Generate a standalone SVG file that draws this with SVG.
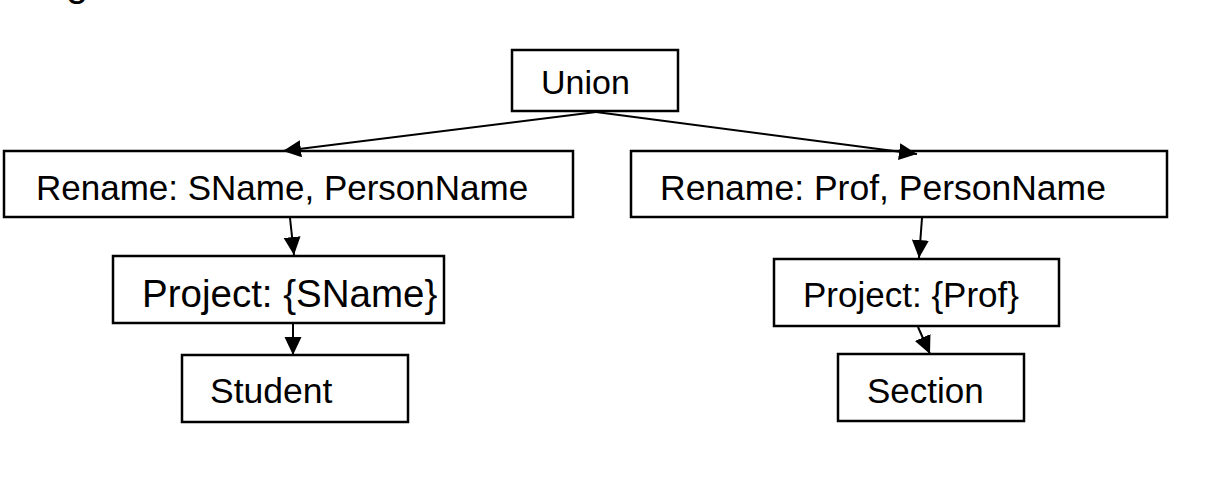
<svg xmlns="http://www.w3.org/2000/svg" width="1220" height="482" viewBox="0 0 1220 482">
<style>
.box{fill:#fff;stroke:#000;stroke-width:2.5}
.lbl{font-family:"Liberation Sans",Arial,sans-serif;fill:#000}
.edge{stroke:#000;stroke-width:2;fill:none}
</style>
<defs>
<marker id="arr" markerUnits="userSpaceOnUse" markerWidth="20" markerHeight="18" refX="18" refY="8.5" orient="auto">
<path d="M0,0 L18,8.5 L0,17 Z" fill="#000"/>
</marker>
</defs>
<rect width="1220" height="482" fill="#fff"/>
<text class="lbl" x="66" y="-4" font-size="40">g</text>
<g id="union"><rect class="box" x="512" y="50" width="166" height="61"/><text class="lbl" x="541" y="94" font-size="34">Union</text></g>
<g id="rename-left"><rect class="box" x="4" y="151" width="569" height="66"/><text class="lbl" x="36" y="200" font-size="35">Rename: SName, PersonName</text></g>
<g id="rename-right"><rect class="box" x="631" y="151" width="536" height="66"/><text class="lbl" x="660" y="200" font-size="35.5">Rename: Prof, PersonName</text></g>
<g id="project-left"><rect class="box" x="113" y="256" width="331" height="67"/><text class="lbl" x="142" y="307" font-size="38.5">Project: {SName}</text></g>
<g id="project-right"><rect class="box" x="774" y="259" width="285" height="67"/><text class="lbl" x="803" y="307" font-size="35">Project: {Prof}</text></g>
<g id="student"><rect class="box" x="182" y="355" width="226" height="67"/><text class="lbl" x="210" y="403" font-size="35.5">Student</text></g>
<g id="section"><rect class="box" x="838" y="354" width="186" height="67"/><text class="lbl" x="867" y="403" font-size="35">Section</text></g>
<g id="connectors">
<line class="edge" x1="596" y1="112" x2="283" y2="151" marker-end="url(#arr)"/>
<line class="edge" x1="596" y1="112" x2="917" y2="154" marker-end="url(#arr)"/>
<line class="edge" x1="290" y1="218" x2="294" y2="255" marker-end="url(#arr)"/>
<line class="edge" x1="293" y1="324" x2="293" y2="355" marker-end="url(#arr)"/>
<line class="edge" x1="922" y1="218" x2="919" y2="258" marker-end="url(#arr)"/>
<line class="edge" x1="918" y1="327" x2="930" y2="354" marker-end="url(#arr)"/>
</g>
</svg>
